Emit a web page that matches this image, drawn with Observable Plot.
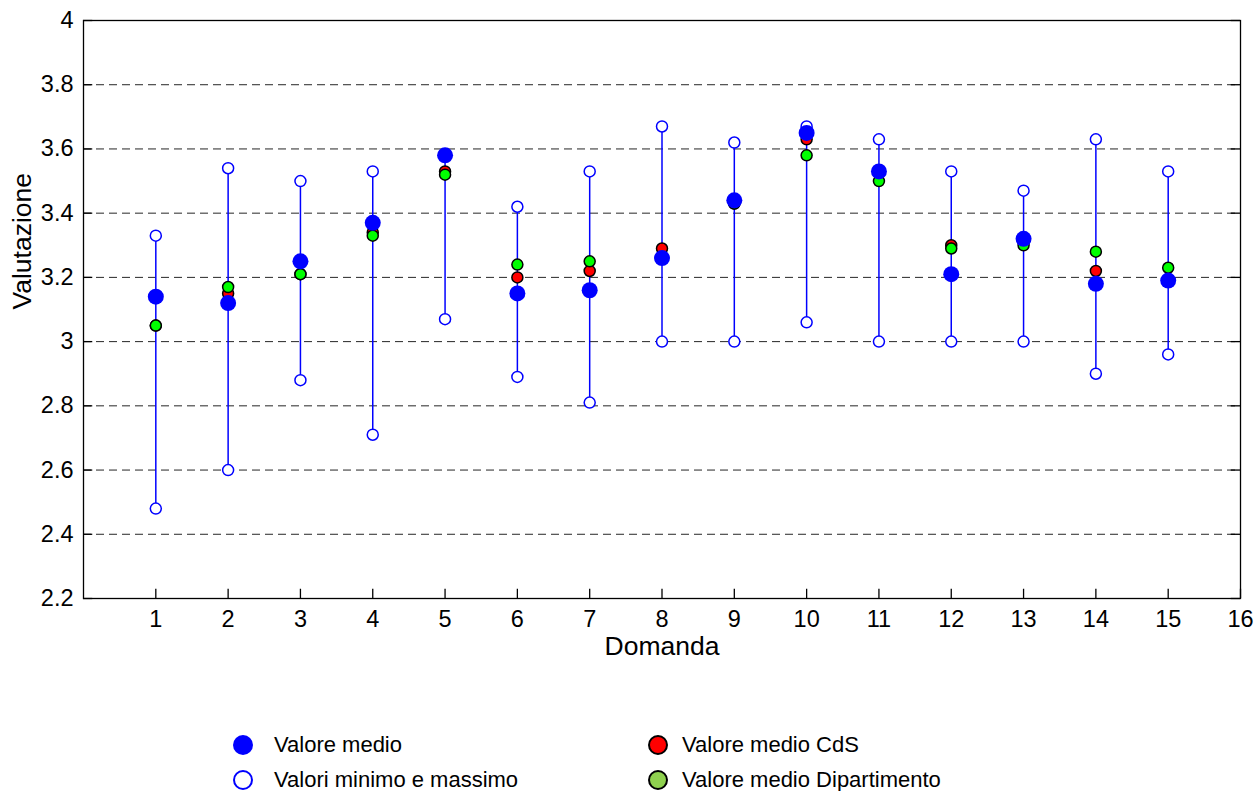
<!DOCTYPE html>
<html>
<head>
<meta charset="utf-8">
<script src="https://cdn.jsdelivr.net/npm/d3@7"></script>
<script src="https://cdn.jsdelivr.net/npm/@observablehq/plot@0.6"></script>
<style>
  body { margin: 0; background: #fff; font-family: "Liberation Sans", Arial, sans-serif; }
  #legend { position: relative; width: 1255px; height: 91px; font-size: 22px; color: #000; }
  .item { position: absolute; display: flex; align-items: center; height: 24px; }
  .item svg { margin-right: 13px; }
</style>
</head>
<body>
<div id="chart"></div>
<div id="legend"></div>
<script>
const questions = [1, 2, 3, 4, 5, 6, 7, 8, 9, 10, 11, 12, 13, 14, 15];
const meanValues = [3.14, 3.12, 3.25, 3.37, 3.58, 3.15, 3.16, 3.26, 3.44, 3.65, 3.53, 3.21, 3.32, 3.18, 3.19];
const minValues  = [2.48, 2.60, 2.88, 2.71, 3.07, 2.89, 2.81, 3.00, 3.00, 3.06, 3.00, 3.00, 3.00, 2.90, 2.96];
const maxValues  = [3.33, 3.54, 3.50, 3.53, 3.58, 3.42, 3.53, 3.67, 3.62, 3.67, 3.63, 3.53, 3.47, 3.63, 3.53];
const cdsValues  = [3.05, 3.15, 3.21, 3.34, 3.53, 3.20, 3.22, 3.29, 3.43, 3.63, 3.53, 3.30, 3.31, 3.22, 3.19];
const deptValues = [3.05, 3.17, 3.21, 3.33, 3.52, 3.24, 3.25, 3.26, 3.43, 3.58, 3.50, 3.29, 3.30, 3.28, 3.23];
const xTicks = [1, 2, 3, 4, 5, 6, 7, 8, 9, 10, 11, 12, 13, 14, 15, 16];
const yTicks = [2.2, 2.4, 2.6, 2.8, 3, 3.2, 3.4, 3.6, 3.8, 4];
const gridValues = [2.4, 2.6, 2.8, 3, 3.2, 3.4, 3.6, 3.8];
const xDomain = [0, 16];
const yDomain = [2.2, 4];
const legendItems = [
  {label: "Valore medio", fill: "#0000ff", stroke: "none", col: 0, row: 0},
  {label: "Valori minimo e massimo", fill: "#ffffff", stroke: "#0000ff", col: 0, row: 1},
  {label: "Valore medio CdS", fill: "#ff0000", stroke: "#000000", col: 1, row: 0},
  {label: "Valore medio Dipartimento", fill: "#8fd14f", stroke: "#000000", col: 1, row: 1}
];

const data = questions.map((q, i) => ({
  q, mean: meanValues[i], min: minValues[i], max: maxValues[i], cds: cdsValues[i], dept: deptValues[i]
}));
const extremes = data.flatMap(d => [{q: d.q, v: d.min}, {q: d.q, v: d.max}]);

// inward tick length as a fraction of each axis span (MATLAB style)
const tickFrac = 0.008;
const xTickLen = (xDomain[1] - xDomain[0]) * tickFrac;
const yTickLen = (yDomain[1] - yDomain[0]) * 0.016;

const chart = Plot.plot({
  width: 1255,
  height: 700,
  marginLeft: 83,
  marginRight: 15,
  marginTop: 20,
  marginBottom: 102,
  style: {fontFamily: "'Liberation Sans', Arial, sans-serif", fontSize: "23.5px", color: "#000", background: "#fff"},
  x: {domain: xDomain},
  y: {domain: yDomain},
  marks: [
    Plot.ruleY(gridValues, {y: d => d, stroke: "#262626", strokeWidth: 1, strokeDasharray: "8,5"}),
    Plot.frame({stroke: "#000", strokeWidth: 1.3}),
    Plot.ruleX(xTicks, {x: d => d, y1: yDomain[0], y2: yDomain[0] + yTickLen, stroke: "#000", strokeWidth: 1.3}),
    Plot.ruleY(yTicks, {y: d => d, x1: xDomain[0], x2: xDomain[0] + xTickLen, stroke: "#000", strokeWidth: 1.3}),
    Plot.ruleY(yTicks, {y: d => d, x1: xDomain[1] - xTickLen, x2: xDomain[1], stroke: "#000", strokeWidth: 1.3}),
    Plot.axisX({ticks: xTicks, tickSize: 0, tickPadding: 12, tickFormat: d => String(d), label: null, fontSize: 23.5}),
    Plot.axisY({ticks: yTicks, tickSize: 0, tickPadding: 10, tickFormat: d => String(d), label: null, fontSize: 23.5}),
    Plot.text(["Domanda"], {frameAnchor: "bottom", dy: 56, fontSize: 26.5, text: d => d}),
    Plot.text(["Valutazione"], {frameAnchor: "left", dx: -61, rotate: -90, fontSize: 26.5, text: d => d}),
    Plot.ruleX(data, {x: "q", y1: "min", y2: "max", stroke: "#0000ff", strokeWidth: 1.5}),
    Plot.dot(extremes, {x: "q", y: "v", r: 5.5, fill: "#ffffff", stroke: "#0000ff", strokeWidth: 1.5}),
    Plot.dot(data, {x: "q", y: "cds", r: 5.5, fill: "#ff0000", stroke: "#000", strokeWidth: 1.5}),
    Plot.dot(data, {x: "q", y: "dept", r: 5.5, fill: "#00ff00", stroke: "#000", strokeWidth: 1.5}),
    Plot.dot(data, {x: "q", y: "mean", r: 8, fill: "#0000ff"})
  ]
});
document.getElementById("chart").appendChild(chart);

const legend = document.getElementById("legend");
for (const it of legendItems) {
  const div = document.createElement("div");
  div.className = "item";
  div.style.left = (it.col === 0 ? 232 : 647) + "px";
  div.style.top = (it.row === 0 ? 33 : 68) + "px";
  const sw = it.stroke === "none" ? 0 : 2;
  div.innerHTML = `<svg width="22" height="22"><circle cx="11" cy="11" r="${it.stroke === "none" ? 10 : 9}" fill="${it.fill}" stroke="${it.stroke}" stroke-width="${sw}"/></svg><span>${it.label}</span>`;
  if (it.col === 0) div.querySelector("svg").style.marginRight = "20px";
  legend.appendChild(div);
}
</script>
</body>
</html>
